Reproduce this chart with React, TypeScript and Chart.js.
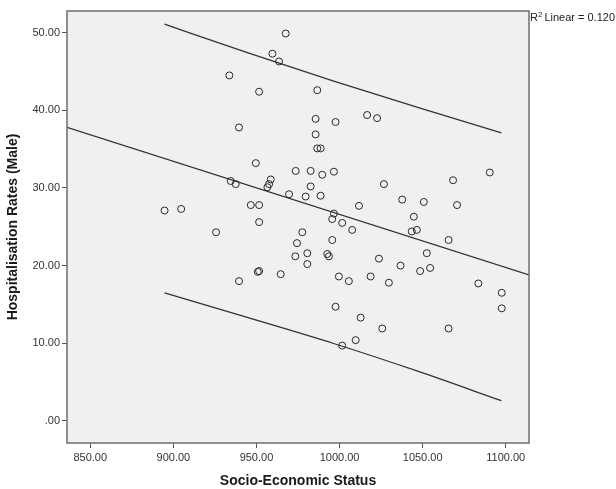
import React, { useEffect, useRef } from "react";
import { Chart, registerables } from "chart.js";

Chart.register(...registerables);

// Observed data (Socio-Economic Status, Hospitalisation Rates (Male))
const sesValues = [
  967.6, 959.6, 963.6, 933.7, 951.6, 939.5, 949.6, 973.6, 934.5, 937.5,
  958.6, 957.6, 956.6, 969.6, 946.6, 951.6, 894.7, 904.7, 951.6, 925.7,
  977.6, 974.4, 973.4, 951.6, 950.8, 964.6, 939.5, 986.6, 985.6, 997.6,
  1016.6, 1022.6, 985.6, 986.6, 988.6, 982.6, 989.6, 996.6, 982.6, 979.6,
  988.6, 1026.7, 1011.7, 1037.7, 1050.7, 1068.3, 1070.7, 1090.4, 1044.7, 996.6,
  995.6, 1001.6, 1007.6, 1043.5, 1046.5, 1065.6, 995.6, 980.6, 992.6, 993.6,
  980.6, 1023.7, 1036.7, 1052.5, 1054.5, 1048.5, 999.6, 1005.6, 1018.7, 1029.7,
  1083.5, 1097.6, 1097.6, 997.6, 1012.7, 1025.7, 1065.6, 1009.7, 1001.6,
];
const hospValues = [
  49.9, 47.3, 46.3, 44.5, 42.4, 37.8, 33.2, 32.2, 30.9, 30.5,
  31.1, 30.5, 30.1, 29.2, 27.8, 27.8, 27.1, 27.3, 25.6, 24.3,
  24.3, 22.9, 21.2, 19.3, 19.2, 18.9, 18.0, 42.6, 38.9, 38.5,
  39.4, 39.0, 36.9, 35.1, 35.1, 32.2, 31.7, 32.1, 30.2, 28.9,
  29.0, 30.5, 27.7, 28.5, 28.2, 31.0, 27.8, 32.0, 26.3, 26.7,
  26.0, 25.5, 24.6, 24.4, 24.6, 23.3, 23.3, 21.6, 21.5, 21.2,
  20.2, 20.9, 20.0, 21.6, 19.7, 19.3, 18.6, 18.0, 18.6, 17.8,
  17.7, 16.5, 14.5, 14.7, 13.3, 11.9, 11.9, 10.4, 9.7,
];

// Fit line (spans the whole axis)
const fitX = [836, 1114];
const fitY = [37.8, 18.8];

// Prediction interval bands
const bandX = [894.7, 945, 996, 1047, 1097.4];
const upperY = [51.1, 47.4, 43.8, 40.4, 37.1];
const lowerY = [16.5, 13.3, 10.0, 6.4, 2.6];

const xTicks = [850, 900, 950, 1000, 1050, 1100];
const yTicks = [0, 10, 20, 30, 40, 50];
const xMin = 836;
const xMax = 1114;
const yMin = -2.85;
const yMax = 52.8;

const xTitle = "Socio-Economic Status";
const yTitle = "Hospitalisation Rates (Male)";
const r2Label = "0.120";

const FONT = "'Liberation Sans', Arial, sans-serif";

const fmt = (v: number) => {
  const s = v.toFixed(2);
  return s.startsWith("0.") ? s.slice(1) : s;
};

export default function App() {
  const ref = useRef<HTMLCanvasElement | null>(null);

  useEffect(() => {
    document.body.style.margin = "0";
    const canvas = ref.current;
    if (!canvas) return;

    const plotLeft = 67;
    const plotRight = 529;
    const plotTop = 11;
    const plotBottom = 443;
    const W = 616;
    const H = 489;

    const decor = {
      id: "decor",
      beforeDraw(chart: any) {
        const { ctx, chartArea: a } = chart;
        ctx.save();
        ctx.fillStyle = "#ffffff";
        ctx.fillRect(0, 0, W, H);
        ctx.fillStyle = "#f0f0f0";
        ctx.fillRect(a.left, a.top, a.right - a.left, a.bottom - a.top);
        ctx.restore();
      },
      afterDraw(chart: any) {
        const { ctx, chartArea: a } = chart;
        ctx.save();
        ctx.strokeStyle = "#6e6e6e";
        ctx.lineWidth = 1.5;
        ctx.strokeRect(a.left, a.top, a.right - a.left, a.bottom - a.top);
        // axis titles
        ctx.fillStyle = "#1a1a1a";
        ctx.font = `bold 14px ${FONT}`;
        ctx.textAlign = "center";
        ctx.textBaseline = "middle";
        ctx.fillText(xTitle, (a.left + a.right) / 2, 481);
        ctx.save();
        ctx.translate(13, (a.top + a.bottom) / 2);
        ctx.rotate(-Math.PI / 2);
        ctx.fillText(yTitle, 0, 0);
        ctx.restore();
        // R² label
        ctx.font = `11px ${FONT}`;
        ctx.textAlign = "left";
        ctx.textBaseline = "alphabetic";
        ctx.fillStyle = "#222";
        let x = a.right + 1;
        const y = 21;
        ctx.fillText("R", x, y);
        x += ctx.measureText("R").width;
        ctx.font = `8px ${FONT}`;
        ctx.fillText("2", x, y - 4);
        x += ctx.measureText("2").width + 2;
        ctx.font = `11px ${FONT}`;
        ctx.fillText(`Linear = ${r2Label}`, x, y);
        ctx.restore();
      },
    };

    const chart = new Chart(canvas, {
      type: "scatter",
      data: {
        datasets: [
          {
            label: "points",
            data: sesValues.map((x, i) => ({ x, y: hospValues[i] })),
            pointRadius: 3.5,
            pointBorderWidth: 1,
            pointBorderColor: "#2a2a2a",
            pointBackgroundColor: "rgba(0,0,0,0)",
            showLine: false,
          },
          {
            label: "fit",
            type: "line",
            data: fitX.map((x, i) => ({ x, y: fitY[i] })),
            borderColor: "#333333",
            borderWidth: 1.3,
            pointRadius: 0,
            fill: false,
          },
          {
            label: "upper",
            type: "line",
            data: bandX.map((x, i) => ({ x, y: upperY[i] })),
            borderColor: "#333333",
            borderWidth: 1.3,
            pointRadius: 0,
            cubicInterpolationMode: "monotone",
            fill: false,
          },
          {
            label: "lower",
            type: "line",
            data: bandX.map((x, i) => ({ x, y: lowerY[i] })),
            borderColor: "#333333",
            borderWidth: 1.3,
            pointRadius: 0,
            cubicInterpolationMode: "monotone",
            fill: false,
          },
        ],
      },
      options: {
        responsive: false,
        animation: false,
        devicePixelRatio: 1,
        layout: {
          padding: { left: 0, right: W - plotRight, top: plotTop, bottom: 0 },
        },
        plugins: {
          legend: { display: false },
          tooltip: { enabled: false },
        },
        scales: {
          x: {
            type: "linear",
            min: xMin,
            max: xMax,
            afterBuildTicks: (s: any) => {
              s.ticks = xTicks.map((v) => ({ value: v }));
            },
            afterFit: (s: any) => {
              s.height = H - plotBottom;
            },
            grid: {
              display: true,
              drawOnChartArea: false,
              drawTicks: true,
              tickLength: 5,
              color: "#555555",
              lineWidth: 1,
            },
            border: { display: false },
            ticks: {
              callback: (v: any) => fmt(Number(v)),
              color: "#333333",
              font: { family: FONT, size: 11 },
              padding: 3,
              maxRotation: 0,
              autoSkip: false,
            },
          },
          y: {
            type: "linear",
            min: yMin,
            max: yMax,
            afterBuildTicks: (s: any) => {
              s.ticks = yTicks.map((v) => ({ value: v }));
            },
            afterFit: (s: any) => {
              s.width = plotLeft;
            },
            grid: {
              display: true,
              drawOnChartArea: false,
              drawTicks: true,
              tickLength: 5,
              color: "#555555",
              lineWidth: 1,
            },
            border: { display: false },
            ticks: {
              callback: (v: any) => fmt(Number(v)),
              color: "#333333",
              font: { family: FONT, size: 11 },
              padding: 2,
              autoSkip: false,
            },
          },
        },
      },
      plugins: [decor],
    } as any);

    return () => chart.destroy();
  }, []);

  return (
    <div style={{ width: 616, height: 489 }}>
      <canvas ref={ref} width={616} height={489} style={{ display: "block" }} />
    </div>
  );
}
